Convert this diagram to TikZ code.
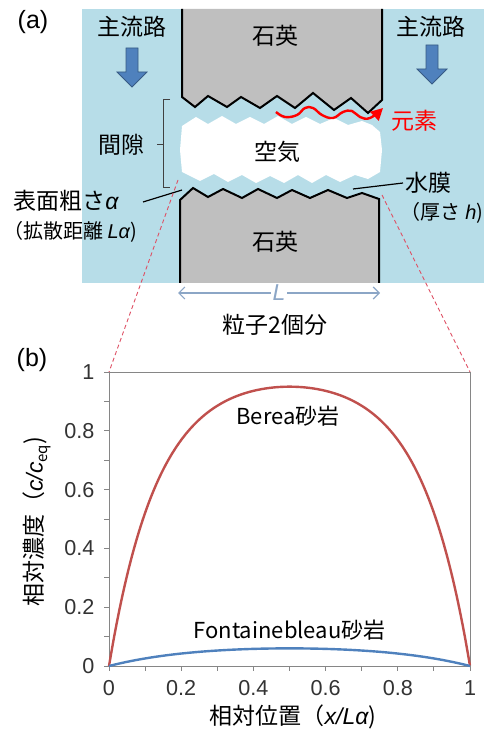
\documentclass[tikz,border=0pt]{standalone}
\usepackage{fontspec}
\setmainfont{Noto Sans CJK JP}
\newfontfamily\latinfont{Liberation Sans}
\usetikzlibrary{arrows.meta}

\definecolor{waterblue}{RGB}{183,221,232}
\definecolor{quartzgray}{RGB}{191,191,191}
\definecolor{flowblue}{RGB}{79,129,189}
\definecolor{bereared}{RGB}{192,80,77}
\definecolor{fontblue}{RGB}{79,129,189}
\definecolor{axisgray}{RGB}{134,134,134}
\definecolor{zoomred}{RGB}{222,80,100}
\definecolor{dimblue}{RGB}{140,166,198}

\newcommand\jpfont{\fontsize{11.5}{13}\selectfont}
\newcommand\jpsmall{\fontsize{10}{12}\selectfont}
\newcommand\ticksize{\latinfont\fontsize{10.8}{12}\selectfont}
\newcommand\sansit[1]{{\latinfont\itshape #1}}

\begin{document}
\begin{tikzpicture}[x=0.5pt, y=-0.5pt,
    jp/.style={font=\jpfont, inner sep=1pt},
    rim/.style={line width=1pt, black, line join=miter},
    flowarrow/.style={fill=flowblue, draw=flowblue!70!black, line width=0.4pt},
    leader/.style={line width=0.6pt, black},
    bracket/.style={line width=0.5pt, black!75},
    wave/.style={line width=1.2pt, red, -{Triangle[length=6pt, width=6pt]}},
    zoomline/.style={zoomred, line width=0.45pt, dash pattern=on 2pt off 1.5pt},
    dimline/.style={dimblue, line width=0.6pt, {Straight Barb[length=3pt]}-{Straight Barb[length=3pt]}},
    axisline/.style={axisgray, line width=0.5pt},
    ticklbl/.style={inner sep=0.5pt, font=\ticksize, text=black!80},
    berea/.style={bereared, line width=1.2pt},
    fontaine/.style={fontblue, line width=1.2pt}]

    \useasboundingbox (0,0) rectangle (484,732);

    % 1. Poro: agua, bloques de cuarzo y aire
    \fill[waterblue] (82,9) rectangle (484,283);

    \draw[rim, fill=quartzgray] (182,9) -- (182,97) -- (195,107) -- (208,96) -- (227,107)
        -- (241,97) -- (260,108) -- (277,96) -- (295,108) -- (313,93) -- (334,110)
        -- (351,98) -- (368,113) -- (382,100) -- (382,9);
    \draw[rim, fill=quartzgray] (180,283) -- (180,200) -- (193,188) -- (208,197) -- (223,189)
        -- (242,198) -- (258,189) -- (277,198) -- (292,190) -- (310,198) -- (328,190)
        -- (347,198) -- (362,193) -- (379,199) -- (379,283);

    \fill[white] (182,126) -- (196,117) -- (208,124) -- (222,116) -- (236,124) -- (250,117)
        -- (264,124) -- (278,116) -- (292,124) -- (306,117) -- (320,124) -- (334,118)
        -- (348,125) -- (362,121) -- (372,125) -- (380,132) -- (382,150) -- (380,172)
        -- (368,179) -- (355,175) -- (340,182) -- (326,175) -- (312,183) -- (298,175)
        -- (284,183) -- (270,176) -- (256,183) -- (242,175) -- (228,182) -- (214,174)
        -- (200,181) -- (188,175) -- (182,172) -- (180,150) -- cycle;

    % flechas del flujo principal
    \foreach \ax/\ay in {132/48, 432/45}
        \filldraw[flowarrow] (\ax-6,\ay) -- (\ax+6,\ay) -- (\ax+6,\ay+24) -- (\ax+15,\ay+24)
            -- (\ax,\ay+39) -- (\ax-15,\ay+24) -- (\ax-6,\ay+24) -- cycle;

    % difusion del elemento (linea ondulada roja)
    \draw[wave] plot[smooth, tension=0.7] coordinates {(276,112) (285,117) (297,115) (305,108)
        (313,108) (322,115) (333,118) (343,112) (352,111) (360,117) (370,118) (383,108)};

    % corchete del intersticio
    \draw[bracket] (170,100) -- (163,100) -- (163,188) -- (170,188) (163,145) -- (157,145);

    % 2. Textos del esquema
    \node[font=\latinfont\fontsize{12.5}{14}\selectfont] (labA) at (33,22) {(a)};
    \node[jp] (mainL) at (132,27) {主流路};
    \node[jp] (mainR) at (431,27) {主流路};
    \node[jp] (quartzTop) at (275,36) {石英};
    \node[jp] (quartzBot) at (275,242) {石英};
    \node[jp] (air) at (277,152) {空気};
    \node[jp] (gap) at (121,145) {間隙};
    \node[jp, text=red] (element) at (414,121) {元素};
    \node[jp] (rough) at (66,201) {表面粗さ\sansit{α}};
    \node[jp, font=\jpsmall] (diffuse) at (70,232) {（拡散距離 \sansit{Lα})};
    \node[jp, anchor=west] (film) at (403,183) {水膜};
    \node[jp, font=\jpsmall] (thick) at (442,213) {（厚さ \sansit{h})};
    \node[jp] (particle) at (275,325) {粒子2個分};

    % lineas de referencia
    \coordinate (roughFoot) at (143,202);
    \coordinate (roughTip) at (182,190);
    \coordinate (filmTip) at (353,189);
    \draw[leader] (roughFoot) -- (roughTip);
    \draw[leader] (film.west) -- (filmTip);

    % cota L
    \coordinate (dimL) at (178,293);
    \coordinate (dimR) at (380,293);
    \draw[dimline] (dimL) -- node[fill=white, inner sep=1pt, font=\jpfont] (lenL) {\sansit{L}} (dimR);

    % lineas de ampliacion hacia la grafica
    \coordinate (zoomTL) at (178,180);
    \coordinate (zoomTR) at (382,195);
    \coordinate (plotTL) at (109,372);
    \coordinate (plotTR) at (470,372);
    \draw[zoomline] (zoomTL) -- (plotTL);
    \draw[zoomline] (zoomTR) -- (plotTR);

    % 3. Grafica de concentracion relativa
    \node[font=\latinfont\fontsize{12.5}{14}\selectfont] (labB) at (32,360) {(b)};

    \begin{scope}[shift={(109,666)}, x=180.5pt, y=147pt]
        \draw[axisline] (0,0) rectangle (1,1);

        % marcas menores
        \foreach \t in {0.1,0.3,0.5,0.7,0.9} {
            \draw[axisline] (\t,0) -- ++(0,-2.5pt);
            \draw[axisline] (0,\t) -- ++(-2.5pt,0);
        }
        % marcas mayores con etiquetas
        \foreach \t [count=\i] in {0,0.2,0.4,0.6,0.8,1} {
            \draw[axisline] (\t,0) -- ++(0,-2.5pt) node[below=4pt, ticklbl] (xtick\i) {\t};
            \draw[axisline] (0,\t) -- ++(-2.5pt,0) node[left=4pt, ticklbl] (ytick\i) {\t};
        }

        \draw[berea] plot[domain=0:1, samples=81, smooth] (\x, {1-cosh(7.38*(\x-0.5))/cosh(3.69)});
        \draw[fontaine] plot[domain=0:1, samples=41, smooth] (\x, {0.06*(1-cosh(4*(\x-0.5))/cosh(2))/(1-1/cosh(2))});

        \node[font=\fontsize{11}{13}\selectfont] (bereaLbl) at (0.496,0.85) {Berea砂岩};
        \node[font=\fontsize{11}{13}\selectfont] (fontLbl) at (0.5,0.122) {Fontainebleau砂岩};
    \end{scope}

    \node[jp] (xLabel) at (293,717) {相対位置（\sansit{x/Lα})};
    \node[jp, rotate=90] (yLabel) at (37,522) {相対濃度（\sansit{c/c}\raisebox{-0.4ex}{\fontsize{7.5}{8}\selectfont eq})};

\end{tikzpicture}
\end{document}
